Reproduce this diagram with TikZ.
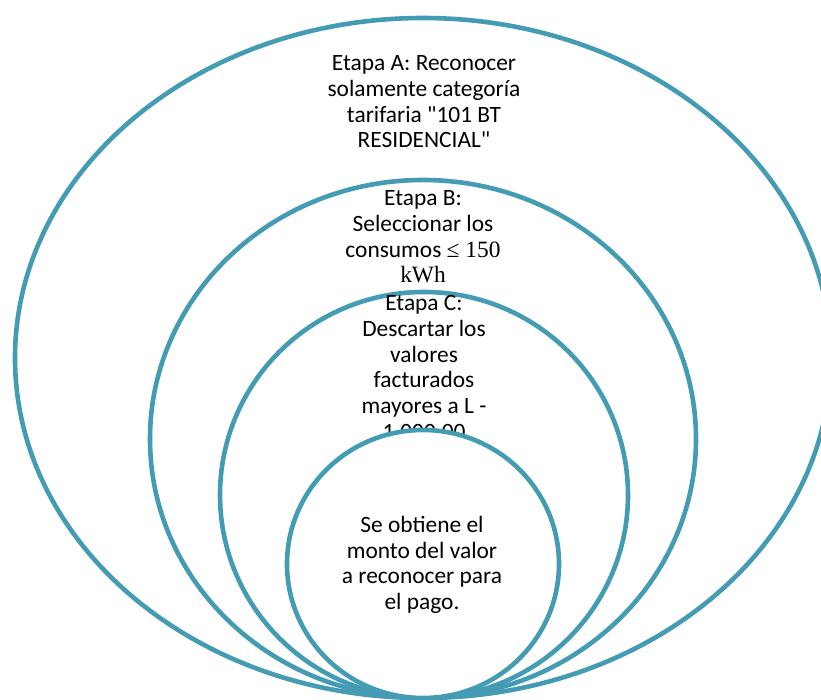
\documentclass[tikz,border=0pt]{standalone}
\usepackage{fontspec}
\usepackage{amsmath}
\usepackage{amssymb}
\setmainfont{Carlito}[Ligatures=TeXOff]
\newfontfamily\serifpart{Liberation Serif}
\definecolor{ringblue}{RGB}{68,156,180}
\usetikzlibrary{shapes.geometric, positioning}

\begin{document}
\begin{tikzpicture}[x=1pt,y=-1pt,
                    ring/.style={ellipse,draw=ringblue,line width=4.6pt,fill=white,inner sep=0pt},
                    stage text/.style={align=center,font=\fontsize{23.4}{25.7}\selectfont,inner sep=0pt}]

 \useasboundingbox (0,0) rectangle (821,700);

 % outer ring, stage A
 \node[ring,minimum width=816pt,minimum height=680pt] (ringA) at (423,358) {};
 \node[stage text] (textA) at (424,102) {Etapa A: Reconocer\\solamente categoría\\tarifaria "101 BT\\RESIDENCIAL"};

 % stage B
 \node[ring,minimum width=546pt,minimum height=518pt] (ringB) at (423,439) {};
 \node[stage text] (textB) at (423,237) {Etapa B:\\Seleccionar los\\consumos {\serifpart≤ 150}\\{\serifpart kWh}};

 % stage C
 \node[ring,minimum width=408pt,minimum height=406pt] (ringC) at (424,495) {};
 \node[stage text] (textC) at (424,369) {Etapa C:\\Descartar los\\valores\\facturados\\mayores a L -\\1.000,00};

 % inner ring, result
 \node[ring,minimum width=272pt,minimum height=268pt] (ringD) at (423,564) {};
 \node[stage text] (textD) at (422,565) {Se obtiene el\\monto del valor\\a reconocer para\\el pago.};

\end{tikzpicture}
\end{document}
